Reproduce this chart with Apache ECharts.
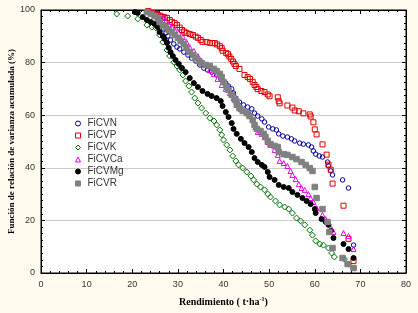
<!DOCTYPE html>
<html>
<head>
<meta charset="utf-8">
<script src="https://cdn.jsdelivr.net/npm/echarts@6/dist/echarts.min.js"></script>
<style>
  html, body { margin: 0; padding: 0; background: #fffaee; }
  #chart { width: 418px; height: 313px; }
</style>
</head>
<body>
<div id="chart"></div>
<script>
// values: [rendimiento, fraccion %]
const ficvN = [
  [23.9, 98.9], [24.7, 98.1], [25.6, 96.6], [26.3, 94.7], [26.9, 92.8], [27.4, 91.3], [27.8, 90.1],
  [28.4, 88.6], [29.1, 87.1], [29.8, 85.9], [30.4, 85.2], [31.3, 84.0], [32.2, 82.9], [33.0, 81.7],
  [33.9, 80.6], [34.8, 79.1], [35.7, 77.9], [36.5, 77.2], [37.4, 76.4], [38.5, 75.3], [39.4, 73.8],
  [40.5, 72.2], [41.1, 71.1], [41.8, 70.0], [42.2, 68.4], [42.7, 66.5], [43.5, 65.0], [44.4, 63.9],
  [45.3, 63.1], [46.2, 62.4], [46.8, 60.8], [47.5, 59.7], [48.4, 58.6], [49.0, 57.4], [49.9, 55.5],
  [50.8, 54.8], [51.6, 54.4], [52.1, 52.9], [53.0, 52.1], [54.0, 51.7], [54.9, 51.0], [55.6, 50.2],
  [56.7, 49.4], [57.5, 49.0], [58.6, 48.7], [59.3, 47.9], [59.7, 46.4], [60.2, 45.2], [61.0, 44.5],
  [61.7, 44.1], [62.8, 42.2], [63.0, 40.7], [63.5, 38.8], [63.9, 37.3], [66.1, 35.4], [67.4, 32.3],
  [68.5, 10.6]
];
const ficvP = [
  [23.5, 99.6], [24.5, 98.9], [25.2, 98.5], [25.6, 98.1], [26.2, 97.8], [26.7, 97.3], [27.1, 97.2],
  [27.6, 97.0], [28.2, 96.2], [28.7, 95.5], [29.3, 95.0], [29.8, 94.3], [30.4, 93.3], [30.9, 92.4],
  [31.4, 91.8], [31.9, 91.3], [32.6, 90.9], [33.3, 90.5], [33.9, 89.9], [34.4, 89.4], [35.0, 88.6],
  [35.4, 87.9], [36.3, 87.8], [37.0, 87.5], [37.6, 87.4], [38.1, 87.4], [38.6, 86.9], [39.2, 86.2],
  [39.6, 85.5], [39.8, 84.5], [40.6, 83.6], [41.0, 83.2], [41.3, 82.3], [41.7, 81.4], [42.1, 80.4],
  [42.4, 79.5], [42.7, 78.7], [43.5, 77.6], [44.6, 75.3], [45.3, 74.5], [45.8, 73.8], [46.4, 72.7],
  [46.8, 71.5], [47.2, 70.7], [47.5, 69.9], [48.3, 69.2], [49.0, 68.8], [49.7, 67.9], [50.1, 67.2],
  [51.9, 66.8], [52.1, 65.3], [52.3, 64.5], [54.0, 63.7], [55.1, 62.9], [55.6, 61.8], [56.5, 61.5],
  [57.5, 60.7], [58.9, 60.3], [59.1, 59.5], [59.7, 57.3], [60.0, 54.6], [60.4, 52.7], [61.7, 48.9],
  [62.6, 45.0], [63.0, 41.2], [63.5, 39.3], [63.9, 34.0], [66.3, 25.6], [67.4, 13.0], [68.5, 4.6]
];
const ficvK = [
  [16.6, 98.5], [19.0, 97.7], [21.2, 96.6], [23.2, 94.3], [24.3, 93.5], [25.2, 93.2], [26.0, 90.5],
  [26.7, 87.8], [27.6, 84.8], [28.2, 82.5], [29.1, 80.2], [29.8, 78.7], [30.4, 77.2], [31.1, 75.3],
  [31.7, 73.0], [32.4, 71.1], [33.0, 68.8], [33.7, 66.5], [34.4, 64.6], [35.2, 62.7], [36.1, 60.8],
  [37.0, 58.9], [37.9, 57.8], [38.5, 56.3], [39.2, 54.4], [39.6, 52.5], [40.0, 50.6], [40.7, 48.7],
  [41.4, 46.8], [42.0, 44.5], [42.7, 42.6], [43.3, 41.1], [44.2, 39.9], [45.1, 38.4], [46.0, 36.9],
  [46.6, 35.4], [47.3, 33.8], [48.1, 32.7], [49.0, 31.6], [49.7, 30.0], [50.3, 28.9], [51.4, 27.4],
  [52.3, 25.9], [53.4, 25.1], [54.3, 24.3], [55.1, 22.8], [56.0, 20.9], [56.9, 19.8], [57.8, 18.3],
  [58.9, 16.3], [59.5, 14.4], [60.2, 12.2], [61.1, 11.0], [61.9, 10.6], [63.0, 9.5], [63.7, 7.6],
  [64.3, 6.1], [66.5, 5.3], [67.4, 3.4], [68.5, 1.9]
];
const ficvCa = [
  [23.9, 99.2], [24.9, 98.5], [26.0, 97.7], [26.7, 97.0], [27.4, 95.8], [28.0, 94.7], [28.7, 93.5],
  [29.3, 92.4], [30.2, 91.3], [31.1, 89.7], [31.9, 87.8], [32.6, 85.9], [33.5, 84.4], [34.4, 82.5],
  [35.2, 80.6], [36.1, 79.1], [37.0, 77.2], [37.9, 75.7], [38.7, 73.8], [39.6, 71.5], [40.5, 70.0],
  [41.4, 68.4], [42.2, 66.5], [42.9, 63.9], [43.8, 62.4], [44.6, 61.6], [45.7, 60.8], [46.4, 58.2],
  [47.0, 55.5], [47.5, 53.6], [48.4, 52.9], [49.0, 51.7], [49.7, 49.8], [50.3, 48.7], [51.2, 46.8],
  [51.9, 44.9], [52.3, 42.6], [53.2, 41.8], [54.0, 40.7], [54.7, 38.8], [55.1, 37.3], [55.8, 35.7],
  [56.5, 33.8], [57.1, 32.3], [57.8, 31.6], [58.6, 30.0], [59.1, 28.5], [59.7, 27.0], [60.4, 24.7],
  [61.7, 22.1], [62.4, 20.5], [63.0, 19.4], [63.7, 16.7], [64.1, 15.6], [66.3, 15.2], [67.4, 14.1],
  [68.5, 9.1]
];
const ficvMg = [
  [20.6, 99.2], [21.2, 98.9], [22.3, 97.3], [23.2, 96.2], [24.1, 95.4], [24.9, 94.7], [25.6, 93.5],
  [26.0, 91.6], [26.7, 90.1], [27.1, 89.0], [27.6, 87.5], [28.0, 85.6], [28.4, 84.0], [28.9, 82.5],
  [29.5, 81.0], [30.2, 79.5], [30.9, 77.9], [31.7, 76.4], [32.6, 74.1], [33.5, 72.2], [34.4, 70.7],
  [35.4, 69.2], [36.5, 68.1], [37.4, 67.3], [38.5, 66.5], [39.4, 65.4], [39.8, 63.5], [40.5, 61.2],
  [41.1, 59.3], [41.8, 57.0], [42.2, 54.8], [42.9, 52.9], [43.8, 51.0], [44.6, 49.4], [45.5, 47.9],
  [46.2, 46.0], [46.8, 43.7], [47.5, 42.2], [48.4, 41.1], [49.0, 40.3], [49.7, 38.4], [50.1, 36.5],
  [51.2, 35.4], [52.1, 33.5], [53.2, 32.7], [54.3, 32.3], [55.1, 30.8], [56.2, 29.7], [57.3, 28.5],
  [58.2, 27.4], [59.1, 26.2], [60.0, 24.3], [60.2, 22.8], [61.5, 20.5], [62.4, 19.4], [63.0, 18.3],
  [63.5, 16.0], [64.1, 13.3], [66.3, 11.0], [67.4, 9.1], [68.5, 5.7]
];
const ficvR = [
  [23.2, 99.2], [24.1, 98.5], [24.9, 97.7], [25.6, 97.0], [26.0, 95.4], [26.7, 94.3], [27.4, 93.5],
  [28.0, 92.4], [28.7, 91.6], [29.3, 90.5], [30.0, 89.4], [30.6, 88.2], [31.3, 87.1], [31.9, 85.6],
  [32.6, 84.0], [33.3, 82.9], [33.9, 81.7], [34.6, 80.6], [35.2, 79.8], [36.1, 79.1], [37.0, 78.7],
  [37.9, 77.6], [38.5, 76.8], [39.2, 75.7], [39.6, 74.5], [40.0, 72.6], [40.7, 70.7], [41.1, 69.6],
  [41.8, 67.7], [42.5, 65.8], [42.9, 64.3], [43.5, 62.7], [44.2, 61.6], [45.1, 60.8], [45.7, 59.7],
  [46.4, 58.2], [46.8, 56.3], [47.3, 54.8], [48.1, 54.0], [48.8, 52.9], [49.2, 51.7], [49.7, 50.2],
  [50.3, 49.0], [51.2, 48.3], [51.9, 47.9], [52.1, 46.0], [53.2, 45.2], [54.0, 44.9], [55.1, 44.1],
  [56.0, 43.3], [57.1, 42.2], [58.0, 41.1], [58.9, 39.9], [59.5, 38.8], [60.0, 32.7], [60.4, 28.5],
  [61.7, 24.3], [62.8, 19.4], [63.2, 15.6], [63.9, 9.5], [66.1, 5.7], [67.2, 3.4], [68.5, 1.9]
];

const seriesNames = ['FiCVN', 'FiCVP', 'FiCVK', 'FiCVCa', 'FiCVMg', 'FiCVR'];
const xTicks = [0, 10, 20, 30, 40, 50, 60, 70, 80];
const yTicks = [0, 20, 40, 60, 80, 100];

const chart = echarts.init(document.getElementById('chart'));

const hollow = 'rgba(255,255,255,0)';
const looks = [
  { data: ficvN, symbol: 'circle', size: 4.5, fill: hollow, stroke: '#00009c' },
  { data: ficvP, symbol: 'rect', size: 5, fill: hollow, stroke: '#e00000' },
  { data: ficvK, symbol: 'diamond', size: 6, fill: hollow, stroke: '#007000' },
  { data: ficvCa, symbol: 'triangle', size: 5, fill: hollow, stroke: '#ee00ee' },
  { data: ficvMg, symbol: 'circle', size: 5, fill: '#000', stroke: '#000' },
  { data: ficvR, symbol: 'rect', size: 5.5, fill: '#808080', stroke: '#808080' }
];

const tickFont = { fontFamily: 'Liberation Sans', fontSize: 9, color: '#333' };

const baseX = {
  type: 'value',
  min: xTicks[0],
  max: xTicks[xTicks.length - 1],
  interval: 10,
  axisLine: { onZero: false, lineStyle: { color: '#000', width: 1 } },
  axisTick: { inside: true, length: 4, lineStyle: { color: '#000' } },
  minorTick: { show: true, splitNumber: 5, length: 2, lineStyle: { color: '#000' } },
  splitLine: { show: false }
};
const baseY = {
  type: 'value',
  min: yTicks[0],
  max: yTicks[yTicks.length - 1],
  interval: 20,
  axisLine: { onZero: false, lineStyle: { color: '#000', width: 1 } },
  axisTick: { inside: true, length: 4, lineStyle: { color: '#000' } },
  minorTick: { show: true, splitNumber: 8, length: 2, lineStyle: { color: '#000' } }
};

chart.setOption({
  backgroundColor: '#fffaee',
  animation: false,
  grid: {
    left: 41, right: 12, top: 10, bottom: 40,
    outerBoundsMode: 'none',
    containLabel: false,
    show: true, backgroundColor: '#fff', borderColor: '#000', borderWidth: 1
  },
  legend: {
    orient: 'vertical',
    left: 70,
    top: 113,
    itemWidth: 5,
    itemHeight: 5,
    itemGap: 1,
    data: seriesNames.map((n, i) => ({
      name: n,
      icon: looks[i].symbol,
      itemStyle: { color: looks[i].fill, borderColor: looks[i].stroke, borderWidth: 1 }
    })),
    textStyle: {
      fontFamily: 'Liberation Sans', fontSize: 10, color: '#333',
      lineHeight: 11, padding: [0, 0, 0, 2]
    }
  },
  xAxis: [
    Object.assign({}, baseX, {
      position: 'bottom',
      axisLabel: Object.assign({ margin: 7 }, tickFont),
      name: 'Rendimiento ( t·ha{sup|-1})',
      nameLocation: 'middle',
      nameGap: 23,
      nameMoveOverlap: false,
      nameTextStyle: {
        fontFamily: 'Liberation Serif', fontWeight: 'bold', fontSize: 10, color: '#000',
        rich: { sup: { fontFamily: 'Liberation Serif', fontWeight: 'bold', fontSize: 6, padding: [0, 0, 6, 0] } }
      }
    }),
    Object.assign({}, baseX, { position: 'top', axisLabel: { show: false } })
  ],
  yAxis: [
    Object.assign({}, baseY, {
      position: 'left',
      axisLabel: Object.assign({ margin: 6 }, tickFont),
      splitLine: { show: true, lineStyle: { color: '#cccccc', width: 1 } },
      name: 'Función de relación de varianza acumulada (%)',
      nameLocation: 'middle',
      nameGap: 25,
      nameMoveOverlap: false,
      nameTextStyle: { fontFamily: 'Liberation Serif', fontWeight: 'bold', fontSize: 9, color: '#000' }
    }),
    Object.assign({}, baseY, { position: 'right', axisLabel: { show: false }, splitLine: { show: false } })
  ],
  series: looks.map((s, i) => ({
    name: seriesNames[i],
    type: 'scatter',
    data: s.data,
    symbol: s.symbol,
    symbolSize: s.size,
    itemStyle: { color: s.fill, borderColor: s.stroke, borderWidth: 1, opacity: 1 }
  }))
});
</script>
</body>
</html>
